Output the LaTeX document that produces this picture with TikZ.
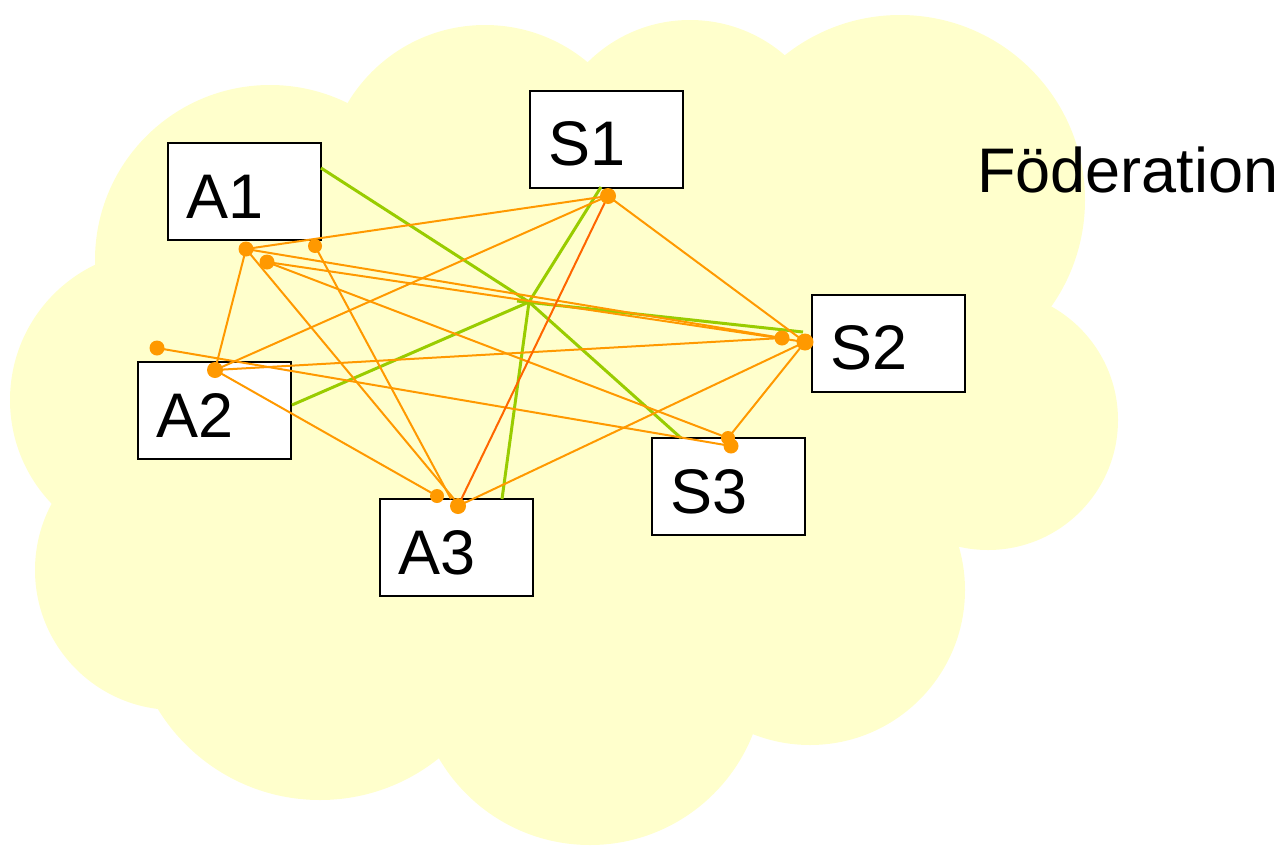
\documentclass[tikz,border=0pt]{standalone}
\usepackage{fontspec}
\setmainfont{Liberation Sans}
\definecolor{cloudc}{HTML}{FFFFCC}
\definecolor{orng}{HTML}{FF9900}
\definecolor{redo}{HTML}{FF6600}
\definecolor{grn}{HTML}{99CC00}
\begin{document}
\begin{tikzpicture}[x=1pt,y=-1pt,
  box/.style={draw=black,line width=2.2pt,fill=white,minimum width=153pt,minimum height=97pt,inner sep=0pt,outer sep=0pt},
  lbl/.style={font=\fontsize{63}{63}\selectfont,anchor=base west,inner sep=0pt},
  oline/.style={draw=orng,line width=2pt},
  rline/.style={draw=redo,line width=2pt},
  gline/.style={draw=grn,line width=3pt},
  dotc/.style={fill=orng,draw=none}]
\useasboundingbox (0,0) rectangle (1284,846);
% cloud
\begin{scope}[fill=cloudc,draw=none]
\fill (270,260) circle (175);
\fill (485,185) circle (160);
\fill (690,165) circle (145);
\fill (900,200) circle (185);
\fill (988,420) circle (130);
\fill (810,590) circle (155);
\fill (590,670) circle (175);
\fill (320,610) circle (190);
\fill (175,570) circle (140);
\fill (160,400) circle (150);
\fill (570,410) ellipse (430 and 300);
\end{scope}
\node[anchor=base west,inner sep=0pt,font=\fontsize{63}{63}\selectfont] (fed) at (977,192) {Föderation};
% boxes
\node[box,anchor=north west] (A1) at (168,143) {};
\node[box,anchor=north west] (S1) at (530,91) {};
\node[box,anchor=north west] (S2) at (812,295) {};
\node[box,anchor=north west] (A2) at (138,362) {};
\node[box,anchor=north west] (S3) at (652,438) {};
\node[box,anchor=north west] (A3) at (380,499) {};
\node[lbl] (A1t) at (186,218) {A1};
\node[lbl] (S1t) at (548,165) {S1};
\node[lbl] (S2t) at (830,369) {S2};
\node[lbl] (A2t) at (156,437) {A2};
\node[lbl] (S3t) at (670,513) {S3};
\node[lbl] (A3t) at (398,574) {A3};
% coordinates
\coordinate (d1) at (246,249);
\coordinate (d2) at (267,262);
\coordinate (d3) at (315,246);
\coordinate (d4) at (157,348);
\coordinate (d5) at (215,370);
\coordinate (d6) at (608,196);
\coordinate (d7) at (782,338);
\coordinate (d8) at (805,342);
\coordinate (d9) at (728,438);
\coordinate (d10) at (731,446);
\coordinate (d11) at (437,496);
\coordinate (d12) at (458,506);
\coordinate (t1) at (451,499);
\coordinate (t2) at (454,499);
\coordinate (hub) at (529,302);
\coordinate (stub) at (517,301);
\coordinate (ga1) at (321,168);
\coordinate (gs3) at (681,438);
\coordinate (ga2) at (292,405);
\coordinate (ga3) at (502,499);
\coordinate (gs1) at (601,187);
\coordinate (gs2) at (803,332);
% green lines
\draw[gline] (ga1) -- (hub) -- (gs3);
\draw[gline] (ga2) -- (hub);
\draw[gline] (ga3) -- (hub);
\draw[gline] (gs1) -- (hub);
\draw[gline] (gs2) -- (stub);
% orange lines
\draw[oline] (d1) -- (d6);
\draw[oline] (d1) -- (d5);
\draw[oline] (d1) -- (t2);
\draw[oline] (d3) -- (t1);
\draw[oline] (d1) -- (d7);
\draw[oline] (d2) -- (d8);
\draw[oline] (d2) -- (d9);
\draw[oline] (d4) -- (d10);
\draw[oline] (d5) -- (d6);
\draw[oline] (d5) -- (d7);
\draw[oline] (d5) -- (d11);
\draw[oline] (d6) -- (d8);
\draw[rline] (d6) -- (d12);
\draw[oline] (d8) -- (d9);
\draw[oline] (d8) -- (d12);
% dots
\foreach \d/\r in {d1/7.5,d2/7.5,d3/7,d4/7.5,d5/8,d6/8,d7/7.5,d8/8.5,d9/7,d10/7.5,d11/7,d12/8}
  \fill[dotc] (\d) circle (\r);
\end{tikzpicture}
\end{document}
